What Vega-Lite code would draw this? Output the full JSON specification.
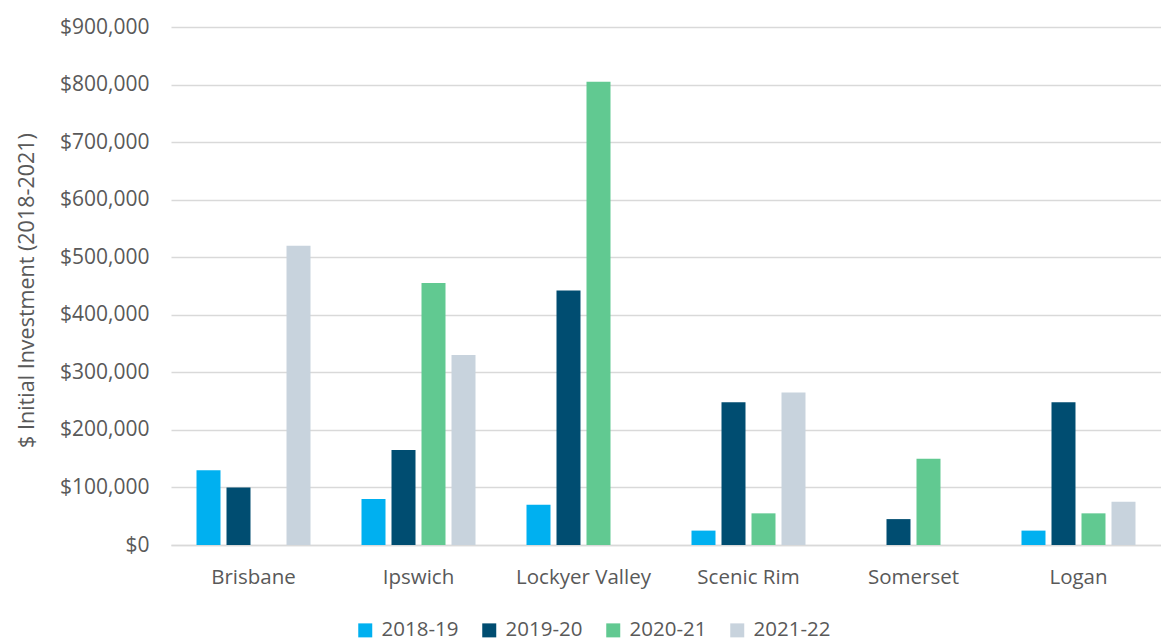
{
  "$schema": "https://vega.github.io/schema/vega-lite/v6.json",
  "width": 990,
  "height": 518,
  "autosize": "none",
  "padding": {"left": 171, "top": 27, "right": 0, "bottom": 97},
  "background": "white",
  "config": {
    "font": "Open Sans",
    "view": {"stroke": null}
  },
  "data": {
    "values": [
      {"region": "Brisbane", "year": "2018-19", "amount": 130000},
      {"region": "Brisbane", "year": "2019-20", "amount": 100000},
      {"region": "Brisbane", "year": "2021-22", "amount": 520000},
      {"region": "Ipswich", "year": "2018-19", "amount": 80000},
      {"region": "Ipswich", "year": "2019-20", "amount": 165000},
      {"region": "Ipswich", "year": "2020-21", "amount": 455000},
      {"region": "Ipswich", "year": "2021-22", "amount": 330000},
      {"region": "Lockyer Valley", "year": "2018-19", "amount": 70000},
      {"region": "Lockyer Valley", "year": "2019-20", "amount": 442000},
      {"region": "Lockyer Valley", "year": "2020-21", "amount": 805000},
      {"region": "Scenic Rim", "year": "2018-19", "amount": 25000},
      {"region": "Scenic Rim", "year": "2019-20", "amount": 248000},
      {"region": "Scenic Rim", "year": "2020-21", "amount": 55000},
      {"region": "Scenic Rim", "year": "2021-22", "amount": 265000},
      {"region": "Somerset", "year": "2019-20", "amount": 45000},
      {"region": "Somerset", "year": "2020-21", "amount": 150000},
      {"region": "Logan", "year": "2018-19", "amount": 25000},
      {"region": "Logan", "year": "2019-20", "amount": 248000},
      {"region": "Logan", "year": "2020-21", "amount": 55000},
      {"region": "Logan", "year": "2021-22", "amount": 75000}
    ]
  },
  "mark": {"type": "bar"},
  "encoding": {
    "x": {
      "field": "region",
      "type": "nominal",
      "sort": ["Brisbane", "Ipswich", "Lockyer Valley", "Scenic Rim", "Somerset", "Logan"],
      "scale": {"paddingInner": 0.2727, "paddingOuter": 0.1364},
      "axis": {
        "title": null,
        "labelAngle": 0,
        "labelFontSize": 20.5,
        "labelColor": "#595959",
        "labelPadding": 22,
        "ticks": false,
        "domainColor": "#d9d9d9",
        "domainWidth": 1.5
      }
    },
    "xOffset": {
      "field": "year",
      "type": "nominal",
      "scale": {"domain": ["2018-19", "2019-20", "2020-21", "2021-22"], "paddingInner": 0.2, "paddingOuter": 0.1}
    },
    "y": {
      "field": "amount",
      "type": "quantitative",
      "scale": {"domain": [0, 900000], "nice": false},
      "axis": {
        "title": "$ Initial Investment (2018-2021)",
        "titleFontSize": 21.5,
        "titleFontWeight": "normal",
        "titleColor": "#595959",
        "titleX": -144,
        "titleY": 263,
        "titleAlign": "center",
        "titleBaseline": "middle",
        "values": [0, 100000, 200000, 300000, 400000, 500000, 600000, 700000, 800000, 900000],
        "format": "$,.0f",
        "labelFontSize": 21,
        "labelColor": "#595959",
        "labelPadding": 22,
        "ticks": false,
        "domain": false,
        "gridColor": "#d9d9d9",
        "gridWidth": 1.5
      }
    },
    "color": {
      "field": "year",
      "type": "nominal",
      "scale": {
        "domain": ["2018-19", "2019-20", "2020-21", "2021-22"],
        "range": ["#00b0f0", "#004d71", "#61c991", "#c8d3dd"]
      },
      "legend": {
        "title": null,
        "orient": "none",
        "direction": "horizontal",
        "legendX": 184,
        "legendY": 593,
        "symbolType": "square",
        "symbolSize": 196,
        "symbolStrokeWidth": 0,
        "labelFontSize": 20.5,
        "labelColor": "#595959",
        "labelOffset": 6,
        "columnPadding": 20
      }
    }
  }
}
